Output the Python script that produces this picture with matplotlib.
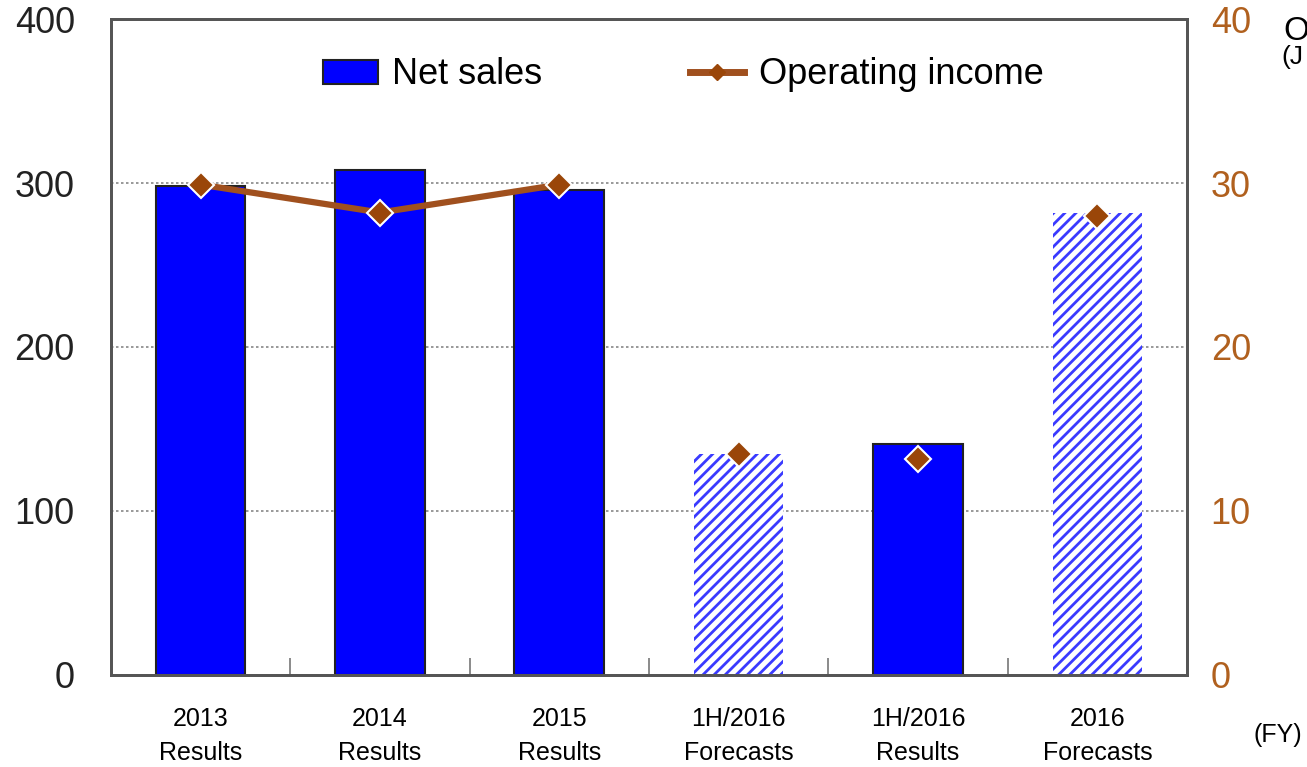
import numpy as np
import matplotlib
matplotlib.use("Agg")
from matplotlib import pyplot as plt
from matplotlib.patches import Patch
from matplotlib.lines import Line2D

plt.rcParams['font.family'] = ['Liberation Sans', 'DejaVu Sans']
plt.rcParams['hatch.linewidth'] = 2.0

# data
categories = ["2013\nResults", "2014\nResults", "2015\nResults",
              "1H/2016\nForecasts", "1H/2016\nResults", "2016\nForecasts"]
net_sales = [298, 308, 296, 135, 141, 282]
is_forecast = [False, False, False, True, False, True]
op_income = [29.9, 28.2, 29.9, 13.5, 13.2, 28.0]

blue = '#0000FF'
hatch_blue = '#3A3AFF'
brown = '#A0501E'
brown_dark = '#9A4609'
brown_tick = '#B0601E'
spine_col = '#555555'

fig = plt.figure(figsize=(13.07, 7.67), dpi=100)
ax = fig.add_axes([0.0849, 0.12, 0.8233, 0.8552])
ax2 = ax.twinx()

x = np.arange(len(categories))
for i in range(len(categories)):
    if is_forecast[i]:
        ax.bar(x[i], net_sales[i], width=0.5, facecolor='white',
               edgecolor=hatch_blue, linewidth=0, hatch='///', zorder=2)
    else:
        ax.bar(x[i], net_sales[i], width=0.5, color=blue,
               edgecolor='#222222', linewidth=1.5, zorder=2)

# line only joins the three full-year results
ax2.plot(x[:3], op_income[:3], color=brown, linewidth=4.5, zorder=3)
ax2.plot(x, op_income, linestyle='none', marker='D', markersize=13,
         markerfacecolor=brown_dark, markeredgecolor='white',
         markeredgewidth=1.5, zorder=4)

ax.set_xlim(-0.5, 5.5)
ax.set_ylim(0, 400)
ax2.set_ylim(0, 40)
ax.set_yticks([0, 100, 200, 300, 400])
ax2.set_yticks([0, 10, 20, 30, 40])
ax.yaxis.grid(True, linestyle=(0, (1.5, 1.5)), color='#888888', linewidth=1.2, zorder=0)
ax.set_axisbelow(True)

ax.set_xticks(x)
ax.set_xticklabels(categories, fontsize=18, linespacing=1.55)
ax.set_xticks(x[:-1] + 0.5, minor=True)
ax.tick_params(axis='x', which='major', length=0, pad=23)
ax.tick_params(axis='x', which='minor', direction='in', length=12,
               width=1.2, color='#777777')
ax.tick_params(axis='y', length=0, labelsize=26, pad=26, labelcolor='#222222')
ax2.tick_params(axis='y', length=0, labelsize=26, pad=17, labelcolor=brown_tick)

for a in (ax, ax2):
    for s in a.spines.values():
        s.set_color(spine_col)
        s.set_linewidth(2)

handles = [Patch(facecolor=blue, edgecolor='#222222', linewidth=1.5),
           Line2D([], [], color=brown, linewidth=5, marker='D', markersize=8,
                  markerfacecolor=brown_dark, markeredgecolor=brown_dark)]
ax.legend(handles, ["Net sales", "Operating income"], loc='center',
          bbox_to_anchor=(0.532, 0.915), ncol=2, frameon=False, fontsize=26,
          handlelength=1.5, handleheight=0.65, handletextpad=0.4,
          columnspacing=4.1)

# axis title is cut by the right edge in the reference
fig.text(1283 / 1307, 1 - 32 / 767, "O", fontsize=24,
         va='center', ha='left')
fig.text(1281 / 1307, 1 - 57 / 767, "(J", fontsize=19,
         va='center', ha='left')
fig.text(1278 / 1307, 1 - 735 / 767, "(FY)", fontsize=18,
         va='center', ha='center')

fig.savefig("out.png", dpi=100)
